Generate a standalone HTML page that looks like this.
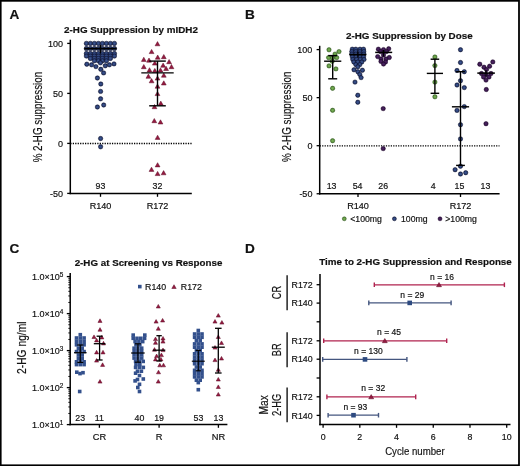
<!DOCTYPE html>
<html><head><meta charset="utf-8"><style>
html,body{margin:0;padding:0;background:#fff;}
#f{position:relative;width:520px;height:466px;overflow:hidden;background:#fff;}
svg{position:absolute;left:0;top:0;will-change:transform;}
text{font-family:"Liberation Sans",sans-serif;fill:#111;stroke:#111;stroke-width:0.18px;}
</style></head><body><div id="f">
<svg width="520" height="466" viewBox="0 0 520 466">
<defs>
<radialGradient id="gb"><stop offset="0" stop-color="#3d5792"/><stop offset="0.6" stop-color="#2c4178"/><stop offset="1" stop-color="#10173a"/></radialGradient>
<radialGradient id="gg"><stop offset="0" stop-color="#7db35a"/><stop offset="0.6" stop-color="#639a44"/><stop offset="1" stop-color="#375c22"/></radialGradient>
<radialGradient id="gp"><stop offset="0" stop-color="#4e2464"/><stop offset="0.6" stop-color="#3d1a52"/><stop offset="1" stop-color="#1c0628"/></radialGradient>
</defs>
<rect x="0" y="0" width="520" height="466" fill="#fff"/>
<text x="9.5" y="18.7" font-size="13.6" text-anchor="start" font-weight="bold" >A</text>
<text x="245.0" y="18.5" font-size="13.6" text-anchor="start" font-weight="bold" >B</text>
<text x="9.4" y="253.0" font-size="13.6" text-anchor="start" font-weight="bold" >C</text>
<text x="245.0" y="252.7" font-size="13.6" text-anchor="start" font-weight="bold" >D</text>
<text x="131" y="33" font-size="9.84" text-anchor="middle" font-weight="bold" >2-HG Suppression by mIDH2</text>
<line x1="70.3" y1="39.7" x2="70.3" y2="194.2" stroke="#000" stroke-width="1.5" />
<line x1="69.55" y1="193.5" x2="191.8" y2="193.5" stroke="#000" stroke-width="1.5" />
<line x1="67.2" y1="43.400000000000006" x2="70.3" y2="43.400000000000006" stroke="#000" stroke-width="1.3" />
<text x="63.1" y="46.62" font-size="9.0" text-anchor="end" >100</text>
<line x1="67.2" y1="93.4" x2="70.3" y2="93.4" stroke="#000" stroke-width="1.3" />
<text x="63.1" y="96.62" font-size="9.0" text-anchor="end" >50</text>
<line x1="67.2" y1="143.4" x2="70.3" y2="143.4" stroke="#000" stroke-width="1.3" />
<text x="63.1" y="146.62" font-size="9.0" text-anchor="end" >0</text>
<line x1="67.2" y1="193.4" x2="70.3" y2="193.4" stroke="#000" stroke-width="1.3" />
<text x="63.1" y="196.62" font-size="9.0" text-anchor="end" >-50</text>
<line x1="100.5" y1="193.5" x2="100.5" y2="196.8" stroke="#000" stroke-width="1.3" />
<text x="100.5" y="208.76" font-size="9.1" text-anchor="middle" >R140</text>
<text x="100.5" y="189.45" font-size="8.8" text-anchor="middle" >93</text>
<line x1="157.5" y1="193.5" x2="157.5" y2="196.8" stroke="#000" stroke-width="1.3" />
<text x="157.5" y="208.76" font-size="9.1" text-anchor="middle" >R172</text>
<text x="157.5" y="189.45" font-size="8.8" text-anchor="middle" >32</text>
<text transform="translate(42.0,117.1) rotate(-90)" font-size="12.0" text-anchor="middle" textLength="90.5" lengthAdjust="spacingAndGlyphs">% 2-HG suppression</text>
<line x1="70.3" y1="143.5" x2="192" y2="143.5" stroke="#000" stroke-width="1.3" stroke-dasharray="1.25 1.2"/>
<line x1="100.5" y1="45.0" x2="100.5" y2="53.6" stroke="#000" stroke-width="1.4" />
<circle cx="86.40" cy="43.40" r="2.25" fill="url(#gb)" stroke="#121a3c" stroke-width="0.5"/>
<circle cx="90.40" cy="43.40" r="2.25" fill="url(#gb)" stroke="#121a3c" stroke-width="0.5"/>
<circle cx="94.40" cy="43.40" r="2.25" fill="url(#gb)" stroke="#121a3c" stroke-width="0.5"/>
<circle cx="98.40" cy="43.40" r="2.25" fill="url(#gb)" stroke="#121a3c" stroke-width="0.5"/>
<circle cx="102.40" cy="43.40" r="2.25" fill="url(#gb)" stroke="#121a3c" stroke-width="0.5"/>
<circle cx="106.40" cy="43.40" r="2.25" fill="url(#gb)" stroke="#121a3c" stroke-width="0.5"/>
<circle cx="110.40" cy="43.40" r="2.25" fill="url(#gb)" stroke="#121a3c" stroke-width="0.5"/>
<circle cx="114.40" cy="43.40" r="2.25" fill="url(#gb)" stroke="#121a3c" stroke-width="0.5"/>
<circle cx="86.40" cy="48.60" r="2.25" fill="url(#gb)" stroke="#121a3c" stroke-width="0.5"/>
<circle cx="90.40" cy="48.60" r="2.25" fill="url(#gb)" stroke="#121a3c" stroke-width="0.5"/>
<circle cx="94.40" cy="48.60" r="2.25" fill="url(#gb)" stroke="#121a3c" stroke-width="0.5"/>
<circle cx="98.40" cy="48.60" r="2.25" fill="url(#gb)" stroke="#121a3c" stroke-width="0.5"/>
<circle cx="102.40" cy="48.60" r="2.25" fill="url(#gb)" stroke="#121a3c" stroke-width="0.5"/>
<circle cx="106.40" cy="48.60" r="2.25" fill="url(#gb)" stroke="#121a3c" stroke-width="0.5"/>
<circle cx="110.40" cy="48.60" r="2.25" fill="url(#gb)" stroke="#121a3c" stroke-width="0.5"/>
<circle cx="114.40" cy="48.60" r="2.25" fill="url(#gb)" stroke="#121a3c" stroke-width="0.5"/>
<circle cx="86.40" cy="53.60" r="2.25" fill="url(#gb)" stroke="#121a3c" stroke-width="0.5"/>
<circle cx="90.40" cy="53.60" r="2.25" fill="url(#gb)" stroke="#121a3c" stroke-width="0.5"/>
<circle cx="94.40" cy="53.60" r="2.25" fill="url(#gb)" stroke="#121a3c" stroke-width="0.5"/>
<circle cx="98.40" cy="53.60" r="2.25" fill="url(#gb)" stroke="#121a3c" stroke-width="0.5"/>
<circle cx="102.40" cy="53.60" r="2.25" fill="url(#gb)" stroke="#121a3c" stroke-width="0.5"/>
<circle cx="106.40" cy="53.60" r="2.25" fill="url(#gb)" stroke="#121a3c" stroke-width="0.5"/>
<circle cx="110.40" cy="53.60" r="2.25" fill="url(#gb)" stroke="#121a3c" stroke-width="0.5"/>
<circle cx="114.40" cy="53.60" r="2.25" fill="url(#gb)" stroke="#121a3c" stroke-width="0.5"/>
<circle cx="86.40" cy="56.00" r="2.25" fill="url(#gb)" stroke="#121a3c" stroke-width="0.5"/>
<circle cx="90.40" cy="56.00" r="2.25" fill="url(#gb)" stroke="#121a3c" stroke-width="0.5"/>
<circle cx="94.40" cy="56.00" r="2.25" fill="url(#gb)" stroke="#121a3c" stroke-width="0.5"/>
<circle cx="98.40" cy="56.00" r="2.25" fill="url(#gb)" stroke="#121a3c" stroke-width="0.5"/>
<circle cx="102.40" cy="56.00" r="2.25" fill="url(#gb)" stroke="#121a3c" stroke-width="0.5"/>
<circle cx="106.40" cy="56.00" r="2.25" fill="url(#gb)" stroke="#121a3c" stroke-width="0.5"/>
<circle cx="110.40" cy="56.00" r="2.25" fill="url(#gb)" stroke="#121a3c" stroke-width="0.5"/>
<circle cx="114.40" cy="56.00" r="2.25" fill="url(#gb)" stroke="#121a3c" stroke-width="0.5"/>
<circle cx="90.40" cy="58.40" r="2.25" fill="url(#gb)" stroke="#121a3c" stroke-width="0.5"/>
<circle cx="94.40" cy="58.40" r="2.25" fill="url(#gb)" stroke="#121a3c" stroke-width="0.5"/>
<circle cx="98.40" cy="58.40" r="2.25" fill="url(#gb)" stroke="#121a3c" stroke-width="0.5"/>
<circle cx="102.40" cy="58.40" r="2.25" fill="url(#gb)" stroke="#121a3c" stroke-width="0.5"/>
<circle cx="106.40" cy="58.40" r="2.25" fill="url(#gb)" stroke="#121a3c" stroke-width="0.5"/>
<circle cx="110.40" cy="58.40" r="2.25" fill="url(#gb)" stroke="#121a3c" stroke-width="0.5"/>
<circle cx="94.40" cy="60.80" r="2.25" fill="url(#gb)" stroke="#121a3c" stroke-width="0.5"/>
<circle cx="98.40" cy="60.80" r="2.25" fill="url(#gb)" stroke="#121a3c" stroke-width="0.5"/>
<circle cx="102.40" cy="60.80" r="2.25" fill="url(#gb)" stroke="#121a3c" stroke-width="0.5"/>
<circle cx="106.40" cy="60.80" r="2.25" fill="url(#gb)" stroke="#121a3c" stroke-width="0.5"/>
<circle cx="100.40" cy="62.80" r="2.25" fill="url(#gb)" stroke="#121a3c" stroke-width="0.5"/>
<line x1="84.3" y1="48.6" x2="116.6" y2="48.6" stroke="#000" stroke-width="1.7" />
<line x1="100.5" y1="45.6" x2="100.5" y2="53.4" stroke="#000" stroke-width="1.2" />
<circle cx="86.80" cy="64.20" r="2.2" fill="url(#gb)" stroke="#121a3c" stroke-width="0.5"/>
<circle cx="91.60" cy="64.80" r="2.2" fill="url(#gb)" stroke="#121a3c" stroke-width="0.5"/>
<circle cx="95.90" cy="66.60" r="2.2" fill="url(#gb)" stroke="#121a3c" stroke-width="0.5"/>
<circle cx="100.80" cy="69.30" r="2.2" fill="url(#gb)" stroke="#121a3c" stroke-width="0.5"/>
<circle cx="103.60" cy="72.90" r="2.2" fill="url(#gb)" stroke="#121a3c" stroke-width="0.5"/>
<circle cx="105.30" cy="65.80" r="2.2" fill="url(#gb)" stroke="#121a3c" stroke-width="0.5"/>
<circle cx="109.40" cy="64.80" r="2.2" fill="url(#gb)" stroke="#121a3c" stroke-width="0.5"/>
<circle cx="114.00" cy="63.90" r="2.2" fill="url(#gb)" stroke="#121a3c" stroke-width="0.5"/>
<circle cx="97.40" cy="78.00" r="2.2" fill="url(#gb)" stroke="#121a3c" stroke-width="0.5"/>
<circle cx="100.80" cy="84.00" r="2.2" fill="url(#gb)" stroke="#121a3c" stroke-width="0.5"/>
<circle cx="100.60" cy="91.40" r="2.2" fill="url(#gb)" stroke="#121a3c" stroke-width="0.5"/>
<circle cx="100.60" cy="98.80" r="2.2" fill="url(#gb)" stroke="#121a3c" stroke-width="0.5"/>
<circle cx="97.40" cy="107.00" r="2.2" fill="url(#gb)" stroke="#121a3c" stroke-width="0.5"/>
<circle cx="103.70" cy="105.00" r="2.2" fill="url(#gb)" stroke="#121a3c" stroke-width="0.5"/>
<circle cx="100.60" cy="138.50" r="2.2" fill="url(#gb)" stroke="#121a3c" stroke-width="0.5"/>
<circle cx="100.60" cy="146.80" r="2.2" fill="url(#gb)" stroke="#121a3c" stroke-width="0.5"/>
<path d="M157.50 41.59L159.90 45.79L155.10 45.79Z" fill="#951a40" stroke="#5c0c26" stroke-width="0.5" stroke-linejoin="round"/>
<path d="M151.60 49.39L154.00 53.59L149.20 53.59Z" fill="#951a40" stroke="#5c0c26" stroke-width="0.5" stroke-linejoin="round"/>
<path d="M143.80 57.19L146.20 61.39L141.40 61.39Z" fill="#951a40" stroke="#5c0c26" stroke-width="0.5" stroke-linejoin="round"/>
<path d="M149.00 57.99L151.40 62.19L146.60 62.19Z" fill="#951a40" stroke="#5c0c26" stroke-width="0.5" stroke-linejoin="round"/>
<path d="M157.70 54.99L160.10 59.19L155.30 59.19Z" fill="#951a40" stroke="#5c0c26" stroke-width="0.5" stroke-linejoin="round"/>
<path d="M163.80 54.49L166.20 58.69L161.40 58.69Z" fill="#951a40" stroke="#5c0c26" stroke-width="0.5" stroke-linejoin="round"/>
<path d="M169.10 59.49L171.50 63.69L166.70 63.69Z" fill="#951a40" stroke="#5c0c26" stroke-width="0.5" stroke-linejoin="round"/>
<path d="M154.80 60.89L157.20 65.09L152.40 65.09Z" fill="#951a40" stroke="#5c0c26" stroke-width="0.5" stroke-linejoin="round"/>
<path d="M143.80 64.49L146.20 68.69L141.40 68.69Z" fill="#951a40" stroke="#5c0c26" stroke-width="0.5" stroke-linejoin="round"/>
<path d="M163.10 63.09L165.50 67.29L160.70 67.29Z" fill="#951a40" stroke="#5c0c26" stroke-width="0.5" stroke-linejoin="round"/>
<path d="M171.50 64.49L173.90 68.69L169.10 68.69Z" fill="#951a40" stroke="#5c0c26" stroke-width="0.5" stroke-linejoin="round"/>
<path d="M166.10 66.29L168.50 70.49L163.70 70.49Z" fill="#951a40" stroke="#5c0c26" stroke-width="0.5" stroke-linejoin="round"/>
<path d="M149.50 67.69L151.90 71.89L147.10 71.89Z" fill="#951a40" stroke="#5c0c26" stroke-width="0.5" stroke-linejoin="round"/>
<path d="M154.80 68.39L157.20 72.59L152.40 72.59Z" fill="#951a40" stroke="#5c0c26" stroke-width="0.5" stroke-linejoin="round"/>
<path d="M160.50 67.89L162.90 72.09L158.10 72.09Z" fill="#951a40" stroke="#5c0c26" stroke-width="0.5" stroke-linejoin="round"/>
<path d="M148.40 74.09L150.80 78.29L146.00 78.29Z" fill="#951a40" stroke="#5c0c26" stroke-width="0.5" stroke-linejoin="round"/>
<path d="M163.80 72.99L166.20 77.19L161.40 77.19Z" fill="#951a40" stroke="#5c0c26" stroke-width="0.5" stroke-linejoin="round"/>
<path d="M157.50 75.89L159.90 80.09L155.10 80.09Z" fill="#951a40" stroke="#5c0c26" stroke-width="0.5" stroke-linejoin="round"/>
<path d="M151.60 78.59L154.00 82.79L149.20 82.79Z" fill="#951a40" stroke="#5c0c26" stroke-width="0.5" stroke-linejoin="round"/>
<path d="M163.80 80.79L166.20 84.99L161.40 84.99Z" fill="#951a40" stroke="#5c0c26" stroke-width="0.5" stroke-linejoin="round"/>
<path d="M157.50 83.99L159.90 88.19L155.10 88.19Z" fill="#951a40" stroke="#5c0c26" stroke-width="0.5" stroke-linejoin="round"/>
<path d="M157.50 91.39L159.90 95.59L155.10 95.59Z" fill="#951a40" stroke="#5c0c26" stroke-width="0.5" stroke-linejoin="round"/>
<path d="M160.80 101.09L163.20 105.29L158.40 105.29Z" fill="#951a40" stroke="#5c0c26" stroke-width="0.5" stroke-linejoin="round"/>
<path d="M154.50 104.49L156.90 108.69L152.10 108.69Z" fill="#951a40" stroke="#5c0c26" stroke-width="0.5" stroke-linejoin="round"/>
<path d="M154.30 118.49L156.70 122.69L151.90 122.69Z" fill="#951a40" stroke="#5c0c26" stroke-width="0.5" stroke-linejoin="round"/>
<path d="M160.50 119.79L162.90 123.99L158.10 123.99Z" fill="#951a40" stroke="#5c0c26" stroke-width="0.5" stroke-linejoin="round"/>
<path d="M157.60 135.19L160.00 139.39L155.20 139.39Z" fill="#951a40" stroke="#5c0c26" stroke-width="0.5" stroke-linejoin="round"/>
<path d="M157.60 162.69L160.00 166.89L155.20 166.89Z" fill="#951a40" stroke="#5c0c26" stroke-width="0.5" stroke-linejoin="round"/>
<path d="M151.50 167.19L153.90 171.39L149.10 171.39Z" fill="#951a40" stroke="#5c0c26" stroke-width="0.5" stroke-linejoin="round"/>
<path d="M157.60 171.39L160.00 175.59L155.20 175.59Z" fill="#951a40" stroke="#5c0c26" stroke-width="0.5" stroke-linejoin="round"/>
<path d="M163.60 170.59L166.00 174.79L161.20 174.79Z" fill="#951a40" stroke="#5c0c26" stroke-width="0.5" stroke-linejoin="round"/>
<line x1="157.5" y1="61.1" x2="157.5" y2="105.8" stroke="#000" stroke-width="1.4" />
<line x1="149.2" y1="61.1" x2="165.8" y2="61.1" stroke="#000" stroke-width="1.4" />
<line x1="149.2" y1="105.8" x2="165.8" y2="105.8" stroke="#000" stroke-width="1.4" />
<line x1="141.3" y1="72.9" x2="173.7" y2="72.9" stroke="#000" stroke-width="1.4" />
<text x="409.3" y="39" font-size="9.84" text-anchor="middle" font-weight="bold" >2-HG Suppression by Dose</text>
<line x1="319.7" y1="45.8" x2="319.7" y2="194.5" stroke="#000" stroke-width="1.5" />
<line x1="318.95" y1="193.75" x2="499.6" y2="193.75" stroke="#000" stroke-width="1.5" />
<line x1="316.6" y1="49.599999999999994" x2="319.7" y2="49.599999999999994" stroke="#000" stroke-width="1.3" />
<text x="312.4" y="52.82" font-size="9.0" text-anchor="end" >100</text>
<line x1="316.6" y1="97.64999999999999" x2="319.7" y2="97.64999999999999" stroke="#000" stroke-width="1.3" />
<text x="312.4" y="100.87" font-size="9.0" text-anchor="end" >50</text>
<line x1="316.6" y1="145.7" x2="319.7" y2="145.7" stroke="#000" stroke-width="1.3" />
<text x="312.4" y="148.92" font-size="9.0" text-anchor="end" >0</text>
<line x1="316.6" y1="193.75" x2="319.7" y2="193.75" stroke="#000" stroke-width="1.3" />
<text x="312.4" y="196.97" font-size="9.0" text-anchor="end" >-50</text>
<text transform="translate(291.3,116.8) rotate(-90)" font-size="12.0" text-anchor="middle" textLength="90.5" lengthAdjust="spacingAndGlyphs">% 2-HG suppression</text>
<line x1="319.7" y1="145.8" x2="499.5" y2="145.8" stroke="#000" stroke-width="1.3" stroke-dasharray="1.25 1.2"/>
<line x1="358" y1="193.75" x2="358" y2="197" stroke="#000" stroke-width="1.3" />
<text x="358" y="208.76" font-size="9.1" text-anchor="middle" >R140</text>
<line x1="460.5" y1="193.75" x2="460.5" y2="197" stroke="#000" stroke-width="1.3" />
<text x="460.5" y="208.76" font-size="9.1" text-anchor="middle" >R172</text>
<text x="331.6" y="189.45" font-size="8.8" text-anchor="middle" >13</text>
<text x="357.6" y="189.45" font-size="8.8" text-anchor="middle" >54</text>
<text x="383.2" y="189.45" font-size="8.8" text-anchor="middle" >26</text>
<text x="433.3" y="189.45" font-size="8.8" text-anchor="middle" >4</text>
<text x="459.4" y="189.45" font-size="8.8" text-anchor="middle" >15</text>
<text x="485.5" y="189.45" font-size="8.8" text-anchor="middle" >13</text>
<circle cx="344.30" cy="218.80" r="2.0" fill="url(#gg)" stroke="#3f6a2a" stroke-width="0.5"/>
<text x="350.3" y="221.71" font-size="8.7" text-anchor="start" >&lt;100mg</text>
<circle cx="394.40" cy="218.80" r="2.0" fill="url(#gb)" stroke="#121a3c" stroke-width="0.5"/>
<text x="401" y="221.71" font-size="8.7" text-anchor="start" >100mg</text>
<circle cx="440.00" cy="218.80" r="2.0" fill="url(#gp)" stroke="#280c38" stroke-width="0.5"/>
<text x="445.3" y="221.71" font-size="8.7" text-anchor="start" >&gt;100mg</text>
<circle cx="329.00" cy="49.80" r="2.2" fill="url(#gg)" stroke="#3f6a2a" stroke-width="0.5"/>
<circle cx="339.00" cy="51.60" r="2.2" fill="url(#gg)" stroke="#3f6a2a" stroke-width="0.5"/>
<circle cx="335.00" cy="54.10" r="2.2" fill="url(#gg)" stroke="#3f6a2a" stroke-width="0.5"/>
<circle cx="328.60" cy="57.60" r="2.2" fill="url(#gg)" stroke="#3f6a2a" stroke-width="0.5"/>
<circle cx="332.60" cy="57.80" r="2.2" fill="url(#gg)" stroke="#3f6a2a" stroke-width="0.5"/>
<circle cx="336.70" cy="57.60" r="2.2" fill="url(#gg)" stroke="#3f6a2a" stroke-width="0.5"/>
<circle cx="329.00" cy="65.90" r="2.2" fill="url(#gg)" stroke="#3f6a2a" stroke-width="0.5"/>
<circle cx="335.90" cy="68.90" r="2.2" fill="url(#gg)" stroke="#3f6a2a" stroke-width="0.5"/>
<circle cx="332.60" cy="88.30" r="2.2" fill="url(#gg)" stroke="#3f6a2a" stroke-width="0.5"/>
<circle cx="332.60" cy="110.30" r="2.2" fill="url(#gg)" stroke="#3f6a2a" stroke-width="0.5"/>
<circle cx="332.60" cy="140.70" r="2.2" fill="url(#gg)" stroke="#3f6a2a" stroke-width="0.5"/>
<circle cx="332.20" cy="61.20" r="2.2" fill="url(#gg)" stroke="#3f6a2a" stroke-width="0.5"/>
<line x1="332.7" y1="55.6" x2="332.7" y2="78.8" stroke="#000" stroke-width="1.4" />
<line x1="328.2" y1="55.6" x2="337.2" y2="55.6" stroke="#000" stroke-width="1.4" />
<line x1="328.2" y1="78.8" x2="337.2" y2="78.8" stroke="#000" stroke-width="1.4" />
<line x1="324.09999999999997" y1="61.2" x2="341.3" y2="61.2" stroke="#000" stroke-width="1.4" />
<line x1="357.9" y1="50" x2="357.9" y2="58" stroke="#000" stroke-width="1.3" />
<circle cx="352.30" cy="49.20" r="2.2" fill="url(#gb)" stroke="#121a3c" stroke-width="0.5"/>
<circle cx="355.80" cy="49.20" r="2.2" fill="url(#gb)" stroke="#121a3c" stroke-width="0.5"/>
<circle cx="360.00" cy="49.20" r="2.2" fill="url(#gb)" stroke="#121a3c" stroke-width="0.5"/>
<circle cx="363.50" cy="49.20" r="2.2" fill="url(#gb)" stroke="#121a3c" stroke-width="0.5"/>
<circle cx="351.80" cy="51.60" r="2.2" fill="url(#gb)" stroke="#121a3c" stroke-width="0.5"/>
<circle cx="355.80" cy="51.60" r="2.2" fill="url(#gb)" stroke="#121a3c" stroke-width="0.5"/>
<circle cx="359.80" cy="51.60" r="2.2" fill="url(#gb)" stroke="#121a3c" stroke-width="0.5"/>
<circle cx="363.80" cy="51.60" r="2.2" fill="url(#gb)" stroke="#121a3c" stroke-width="0.5"/>
<circle cx="351.80" cy="54.00" r="2.2" fill="url(#gb)" stroke="#121a3c" stroke-width="0.5"/>
<circle cx="355.80" cy="54.00" r="2.2" fill="url(#gb)" stroke="#121a3c" stroke-width="0.5"/>
<circle cx="359.80" cy="54.00" r="2.2" fill="url(#gb)" stroke="#121a3c" stroke-width="0.5"/>
<circle cx="363.80" cy="54.00" r="2.2" fill="url(#gb)" stroke="#121a3c" stroke-width="0.5"/>
<circle cx="352.30" cy="56.80" r="2.2" fill="url(#gb)" stroke="#121a3c" stroke-width="0.5"/>
<circle cx="356.20" cy="56.80" r="2.2" fill="url(#gb)" stroke="#121a3c" stroke-width="0.5"/>
<circle cx="360.00" cy="56.80" r="2.2" fill="url(#gb)" stroke="#121a3c" stroke-width="0.5"/>
<circle cx="363.60" cy="56.80" r="2.2" fill="url(#gb)" stroke="#121a3c" stroke-width="0.5"/>
<circle cx="352.80" cy="59.40" r="2.2" fill="url(#gb)" stroke="#121a3c" stroke-width="0.5"/>
<circle cx="356.60" cy="59.40" r="2.2" fill="url(#gb)" stroke="#121a3c" stroke-width="0.5"/>
<circle cx="360.40" cy="59.40" r="2.2" fill="url(#gb)" stroke="#121a3c" stroke-width="0.5"/>
<circle cx="364.00" cy="59.40" r="2.2" fill="url(#gb)" stroke="#121a3c" stroke-width="0.5"/>
<circle cx="353.80" cy="62.00" r="2.2" fill="url(#gb)" stroke="#121a3c" stroke-width="0.5"/>
<circle cx="357.80" cy="62.00" r="2.2" fill="url(#gb)" stroke="#121a3c" stroke-width="0.5"/>
<circle cx="361.80" cy="62.00" r="2.2" fill="url(#gb)" stroke="#121a3c" stroke-width="0.5"/>
<circle cx="355.80" cy="64.60" r="2.2" fill="url(#gb)" stroke="#121a3c" stroke-width="0.5"/>
<circle cx="359.80" cy="64.60" r="2.2" fill="url(#gb)" stroke="#121a3c" stroke-width="0.5"/>
<circle cx="357.80" cy="66.80" r="2.2" fill="url(#gb)" stroke="#121a3c" stroke-width="0.5"/>
<circle cx="354.00" cy="69.80" r="2.2" fill="url(#gb)" stroke="#121a3c" stroke-width="0.5"/>
<circle cx="362.40" cy="70.20" r="2.2" fill="url(#gb)" stroke="#121a3c" stroke-width="0.5"/>
<circle cx="357.90" cy="71.80" r="2.2" fill="url(#gb)" stroke="#121a3c" stroke-width="0.5"/>
<circle cx="359.80" cy="74.40" r="2.2" fill="url(#gb)" stroke="#121a3c" stroke-width="0.5"/>
<circle cx="361.10" cy="77.60" r="2.2" fill="url(#gb)" stroke="#121a3c" stroke-width="0.5"/>
<circle cx="355.00" cy="82.10" r="2.2" fill="url(#gb)" stroke="#121a3c" stroke-width="0.5"/>
<circle cx="357.80" cy="95.20" r="2.2" fill="url(#gb)" stroke="#121a3c" stroke-width="0.5"/>
<circle cx="357.80" cy="102.20" r="2.2" fill="url(#gb)" stroke="#121a3c" stroke-width="0.5"/>
<line x1="349.2" y1="54.6" x2="366.4" y2="54.6" stroke="#000" stroke-width="1.6" />
<line x1="357.9" y1="51.5" x2="357.9" y2="57.5" stroke="#000" stroke-width="1.1" />
<circle cx="378.40" cy="49.20" r="2.2" fill="url(#gp)" stroke="#280c38" stroke-width="0.5"/>
<circle cx="383.50" cy="49.60" r="2.2" fill="url(#gp)" stroke="#280c38" stroke-width="0.5"/>
<circle cx="388.70" cy="48.80" r="2.2" fill="url(#gp)" stroke="#280c38" stroke-width="0.5"/>
<circle cx="380.50" cy="51.50" r="2.2" fill="url(#gp)" stroke="#280c38" stroke-width="0.5"/>
<circle cx="386.50" cy="51.50" r="2.2" fill="url(#gp)" stroke="#280c38" stroke-width="0.5"/>
<circle cx="377.70" cy="56.60" r="2.2" fill="url(#gp)" stroke="#280c38" stroke-width="0.5"/>
<circle cx="383.50" cy="55.00" r="2.2" fill="url(#gp)" stroke="#280c38" stroke-width="0.5"/>
<circle cx="389.30" cy="57.50" r="2.2" fill="url(#gp)" stroke="#280c38" stroke-width="0.5"/>
<circle cx="381.00" cy="59.00" r="2.2" fill="url(#gp)" stroke="#280c38" stroke-width="0.5"/>
<circle cx="386.00" cy="59.00" r="2.2" fill="url(#gp)" stroke="#280c38" stroke-width="0.5"/>
<circle cx="381.00" cy="61.40" r="2.2" fill="url(#gp)" stroke="#280c38" stroke-width="0.5"/>
<circle cx="385.50" cy="62.00" r="2.2" fill="url(#gp)" stroke="#280c38" stroke-width="0.5"/>
<circle cx="383.50" cy="64.00" r="2.2" fill="url(#gp)" stroke="#280c38" stroke-width="0.5"/>
<circle cx="383.20" cy="108.60" r="2.2" fill="url(#gp)" stroke="#280c38" stroke-width="0.5"/>
<circle cx="383.20" cy="148.60" r="2.2" fill="url(#gp)" stroke="#280c38" stroke-width="0.5"/>
<line x1="375.2" y1="52.4" x2="392.2" y2="52.4" stroke="#000" stroke-width="1.5" />
<line x1="383.5" y1="50.0" x2="383.5" y2="56.5" stroke="#000" stroke-width="1.2" />
<circle cx="434.90" cy="57.00" r="2.2" fill="url(#gg)" stroke="#3f6a2a" stroke-width="0.5"/>
<circle cx="434.90" cy="65.60" r="2.2" fill="url(#gg)" stroke="#3f6a2a" stroke-width="0.5"/>
<circle cx="434.90" cy="82.10" r="2.2" fill="url(#gg)" stroke="#3f6a2a" stroke-width="0.5"/>
<circle cx="434.90" cy="96.80" r="2.2" fill="url(#gg)" stroke="#3f6a2a" stroke-width="0.5"/>
<line x1="434.9" y1="59.2" x2="434.9" y2="93.3" stroke="#000" stroke-width="1.4" />
<line x1="430.59999999999997" y1="59.2" x2="439.2" y2="59.2" stroke="#000" stroke-width="1.4" />
<line x1="430.59999999999997" y1="93.3" x2="439.2" y2="93.3" stroke="#000" stroke-width="1.4" />
<line x1="426.79999999999995" y1="73.4" x2="443.0" y2="73.4" stroke="#000" stroke-width="1.4" />
<circle cx="460.50" cy="49.70" r="2.2" fill="url(#gb)" stroke="#121a3c" stroke-width="0.5"/>
<circle cx="460.50" cy="62.50" r="2.2" fill="url(#gb)" stroke="#121a3c" stroke-width="0.5"/>
<circle cx="457.00" cy="70.50" r="2.2" fill="url(#gb)" stroke="#121a3c" stroke-width="0.5"/>
<circle cx="464.30" cy="71.70" r="2.2" fill="url(#gb)" stroke="#121a3c" stroke-width="0.5"/>
<circle cx="460.50" cy="80.70" r="2.2" fill="url(#gb)" stroke="#121a3c" stroke-width="0.5"/>
<circle cx="457.00" cy="85.00" r="2.2" fill="url(#gb)" stroke="#121a3c" stroke-width="0.5"/>
<circle cx="464.30" cy="87.60" r="2.2" fill="url(#gb)" stroke="#121a3c" stroke-width="0.5"/>
<circle cx="464.30" cy="106.60" r="2.2" fill="url(#gb)" stroke="#121a3c" stroke-width="0.5"/>
<circle cx="457.00" cy="110.40" r="2.2" fill="url(#gb)" stroke="#121a3c" stroke-width="0.5"/>
<circle cx="460.50" cy="124.70" r="2.2" fill="url(#gb)" stroke="#121a3c" stroke-width="0.5"/>
<circle cx="460.50" cy="138.90" r="2.2" fill="url(#gb)" stroke="#121a3c" stroke-width="0.5"/>
<circle cx="460.50" cy="166.20" r="2.2" fill="url(#gb)" stroke="#121a3c" stroke-width="0.5"/>
<circle cx="455.10" cy="169.70" r="2.2" fill="url(#gb)" stroke="#121a3c" stroke-width="0.5"/>
<circle cx="460.50" cy="174.00" r="2.2" fill="url(#gb)" stroke="#121a3c" stroke-width="0.5"/>
<circle cx="465.70" cy="172.70" r="2.2" fill="url(#gb)" stroke="#121a3c" stroke-width="0.5"/>
<line x1="460.5" y1="71.7" x2="460.5" y2="165.4" stroke="#000" stroke-width="1.4" />
<line x1="456.1" y1="71.7" x2="464.9" y2="71.7" stroke="#000" stroke-width="1.4" />
<line x1="456.1" y1="165.4" x2="464.9" y2="165.4" stroke="#000" stroke-width="1.4" />
<line x1="451.9" y1="106.8" x2="469.1" y2="106.8" stroke="#000" stroke-width="1.4" />
<line x1="486" y1="68.5" x2="486" y2="77.5" stroke="#000" stroke-width="1.3" />
<circle cx="492.80" cy="61.90" r="2.2" fill="url(#gp)" stroke="#280c38" stroke-width="0.5"/>
<circle cx="479.80" cy="64.20" r="2.2" fill="url(#gp)" stroke="#280c38" stroke-width="0.5"/>
<circle cx="484.00" cy="67.20" r="2.2" fill="url(#gp)" stroke="#280c38" stroke-width="0.5"/>
<circle cx="489.60" cy="66.20" r="2.2" fill="url(#gp)" stroke="#280c38" stroke-width="0.5"/>
<circle cx="486.50" cy="69.50" r="2.2" fill="url(#gp)" stroke="#280c38" stroke-width="0.5"/>
<circle cx="481.50" cy="73.50" r="2.2" fill="url(#gp)" stroke="#280c38" stroke-width="0.5"/>
<circle cx="486.00" cy="74.50" r="2.2" fill="url(#gp)" stroke="#280c38" stroke-width="0.5"/>
<circle cx="491.00" cy="73.50" r="2.2" fill="url(#gp)" stroke="#280c38" stroke-width="0.5"/>
<circle cx="483.50" cy="77.00" r="2.2" fill="url(#gp)" stroke="#280c38" stroke-width="0.5"/>
<circle cx="489.00" cy="77.00" r="2.2" fill="url(#gp)" stroke="#280c38" stroke-width="0.5"/>
<circle cx="486.00" cy="80.10" r="2.2" fill="url(#gp)" stroke="#280c38" stroke-width="0.5"/>
<circle cx="486.30" cy="89.50" r="2.2" fill="url(#gp)" stroke="#280c38" stroke-width="0.5"/>
<circle cx="486.00" cy="123.70" r="2.2" fill="url(#gp)" stroke="#280c38" stroke-width="0.5"/>
<line x1="477.3" y1="73.1" x2="494.9" y2="73.1" stroke="#000" stroke-width="1.5" />
<line x1="486" y1="70" x2="486" y2="76" stroke="#000" stroke-width="1.2" />
<text x="148.5" y="266" font-size="9.77" text-anchor="middle" font-weight="bold" >2-HG at Screening vs Response</text>
<line x1="70.2" y1="273.0" x2="70.2" y2="425.3" stroke="#000" stroke-width="1.5" />
<line x1="69.45" y1="424.6" x2="227.4" y2="424.6" stroke="#000" stroke-width="1.5" />
<line x1="66.8" y1="424.6" x2="70.2" y2="424.6" stroke="#000" stroke-width="1.3" />
<text x="63.3" y="427.80" font-size="9.0" text-anchor="end">1.0×10<tspan font-size="6.4" dy="-3.0">1</tspan></text>
<line x1="68.3" y1="413.46189016043274" x2="70.2" y2="413.46189016043274" stroke="#000" stroke-width="0.9" />
<line x1="68.3" y1="406.94651357537253" x2="70.2" y2="406.94651357537253" stroke="#000" stroke-width="0.9" />
<line x1="68.3" y1="402.3237803208654" x2="70.2" y2="402.3237803208654" stroke="#000" stroke-width="0.9" />
<line x1="68.3" y1="398.7381098395673" x2="70.2" y2="398.7381098395673" stroke="#000" stroke-width="0.9" />
<line x1="68.3" y1="395.8084037358052" x2="70.2" y2="395.8084037358052" stroke="#000" stroke-width="0.9" />
<line x1="68.3" y1="393.3313725194725" x2="70.2" y2="393.3313725194725" stroke="#000" stroke-width="0.9" />
<line x1="68.3" y1="391.18567048129813" x2="70.2" y2="391.18567048129813" stroke="#000" stroke-width="0.9" />
<line x1="68.3" y1="389.293027150745" x2="70.2" y2="389.293027150745" stroke="#000" stroke-width="0.9" />
<line x1="66.8" y1="387.6" x2="70.2" y2="387.6" stroke="#000" stroke-width="1.3" />
<text x="63.3" y="390.80" font-size="9.0" text-anchor="end">1.0×10<tspan font-size="6.4" dy="-3.0">2</tspan></text>
<line x1="68.3" y1="376.46189016043274" x2="70.2" y2="376.46189016043274" stroke="#000" stroke-width="0.9" />
<line x1="68.3" y1="369.9465135753725" x2="70.2" y2="369.9465135753725" stroke="#000" stroke-width="0.9" />
<line x1="68.3" y1="365.3237803208654" x2="70.2" y2="365.3237803208654" stroke="#000" stroke-width="0.9" />
<line x1="68.3" y1="361.7381098395673" x2="70.2" y2="361.7381098395673" stroke="#000" stroke-width="0.9" />
<line x1="68.3" y1="358.8084037358052" x2="70.2" y2="358.8084037358052" stroke="#000" stroke-width="0.9" />
<line x1="68.3" y1="356.33137251947255" x2="70.2" y2="356.33137251947255" stroke="#000" stroke-width="0.9" />
<line x1="68.3" y1="354.1856704812981" x2="70.2" y2="354.1856704812981" stroke="#000" stroke-width="0.9" />
<line x1="68.3" y1="352.293027150745" x2="70.2" y2="352.293027150745" stroke="#000" stroke-width="0.9" />
<line x1="66.8" y1="350.6" x2="70.2" y2="350.6" stroke="#000" stroke-width="1.3" />
<text x="63.3" y="353.80" font-size="9.0" text-anchor="end">1.0×10<tspan font-size="6.4" dy="-3.0">3</tspan></text>
<line x1="68.3" y1="339.46189016043274" x2="70.2" y2="339.46189016043274" stroke="#000" stroke-width="0.9" />
<line x1="68.3" y1="332.9465135753725" x2="70.2" y2="332.9465135753725" stroke="#000" stroke-width="0.9" />
<line x1="68.3" y1="328.3237803208654" x2="70.2" y2="328.3237803208654" stroke="#000" stroke-width="0.9" />
<line x1="68.3" y1="324.7381098395673" x2="70.2" y2="324.7381098395673" stroke="#000" stroke-width="0.9" />
<line x1="68.3" y1="321.8084037358052" x2="70.2" y2="321.8084037358052" stroke="#000" stroke-width="0.9" />
<line x1="68.3" y1="319.33137251947255" x2="70.2" y2="319.33137251947255" stroke="#000" stroke-width="0.9" />
<line x1="68.3" y1="317.1856704812981" x2="70.2" y2="317.1856704812981" stroke="#000" stroke-width="0.9" />
<line x1="68.3" y1="315.293027150745" x2="70.2" y2="315.293027150745" stroke="#000" stroke-width="0.9" />
<line x1="66.8" y1="313.6" x2="70.2" y2="313.6" stroke="#000" stroke-width="1.3" />
<text x="63.3" y="316.80" font-size="9.0" text-anchor="end">1.0×10<tspan font-size="6.4" dy="-3.0">4</tspan></text>
<line x1="68.3" y1="302.46189016043274" x2="70.2" y2="302.46189016043274" stroke="#000" stroke-width="0.9" />
<line x1="68.3" y1="295.9465135753725" x2="70.2" y2="295.9465135753725" stroke="#000" stroke-width="0.9" />
<line x1="68.3" y1="291.3237803208654" x2="70.2" y2="291.3237803208654" stroke="#000" stroke-width="0.9" />
<line x1="68.3" y1="287.7381098395673" x2="70.2" y2="287.7381098395673" stroke="#000" stroke-width="0.9" />
<line x1="68.3" y1="284.8084037358052" x2="70.2" y2="284.8084037358052" stroke="#000" stroke-width="0.9" />
<line x1="68.3" y1="282.33137251947255" x2="70.2" y2="282.33137251947255" stroke="#000" stroke-width="0.9" />
<line x1="68.3" y1="280.1856704812981" x2="70.2" y2="280.1856704812981" stroke="#000" stroke-width="0.9" />
<line x1="68.3" y1="278.293027150745" x2="70.2" y2="278.293027150745" stroke="#000" stroke-width="0.9" />
<line x1="66.8" y1="276.6" x2="70.2" y2="276.6" stroke="#000" stroke-width="1.3" />
<text x="63.3" y="279.80" font-size="9.0" text-anchor="end">1.0×10<tspan font-size="6.4" dy="-3.0">5</tspan></text>
<line x1="99.4" y1="424.6" x2="99.4" y2="427.8" stroke="#000" stroke-width="1.3" />
<text x="99.4" y="440.23" font-size="9.3" text-anchor="middle" >CR</text>
<line x1="159.1" y1="424.6" x2="159.1" y2="427.8" stroke="#000" stroke-width="1.3" />
<text x="159.1" y="440.23" font-size="9.3" text-anchor="middle" >R</text>
<line x1="218.4" y1="424.6" x2="218.4" y2="427.8" stroke="#000" stroke-width="1.3" />
<text x="218.4" y="440.23" font-size="9.3" text-anchor="middle" >NR</text>
<text x="80.2" y="420.75" font-size="8.8" text-anchor="middle" >23</text>
<text x="99.4" y="420.75" font-size="8.8" text-anchor="middle" >11</text>
<text x="139.4" y="420.75" font-size="8.8" text-anchor="middle" >40</text>
<text x="159.1" y="420.75" font-size="8.8" text-anchor="middle" >19</text>
<text x="198.4" y="420.75" font-size="8.8" text-anchor="middle" >53</text>
<text x="218.4" y="420.75" font-size="8.8" text-anchor="middle" >13</text>
<text transform="translate(25.6,347.7) rotate(-90)" font-size="12.0" text-anchor="middle" textLength="52.5" lengthAdjust="spacingAndGlyphs">2-HG ng/ml</text>
<rect x="138.00" y="284.80" width="3.6" height="3.6" fill="#33508c"/>
<text x="145.1" y="289.75" font-size="8.8" text-anchor="start" >R140</text>
<path d="M174.00 284.71L176.20 288.51L171.80 288.51Z" fill="#951a40" stroke="#5c0c26" stroke-width="0.5" stroke-linejoin="round"/>
<text x="180.8" y="289.75" font-size="8.8" text-anchor="start" >R172</text>
<rect x="78.50" y="332.90" width="3.6" height="3.6" fill="#33508c"/>
<rect x="74.70" y="336.20" width="3.6" height="3.6" fill="#33508c"/>
<rect x="78.50" y="336.20" width="3.6" height="3.6" fill="#33508c"/>
<rect x="82.30" y="336.20" width="3.6" height="3.6" fill="#33508c"/>
<rect x="74.70" y="339.60" width="3.6" height="3.6" fill="#33508c"/>
<rect x="78.50" y="339.60" width="3.6" height="3.6" fill="#33508c"/>
<rect x="82.30" y="339.60" width="3.6" height="3.6" fill="#33508c"/>
<rect x="74.70" y="343.00" width="3.6" height="3.6" fill="#33508c"/>
<rect x="78.50" y="343.00" width="3.6" height="3.6" fill="#33508c"/>
<rect x="82.30" y="343.00" width="3.6" height="3.6" fill="#33508c"/>
<rect x="76.60" y="346.40" width="3.6" height="3.6" fill="#33508c"/>
<rect x="80.40" y="346.40" width="3.6" height="3.6" fill="#33508c"/>
<rect x="74.70" y="349.80" width="3.6" height="3.6" fill="#33508c"/>
<rect x="78.50" y="349.80" width="3.6" height="3.6" fill="#33508c"/>
<rect x="82.30" y="349.80" width="3.6" height="3.6" fill="#33508c"/>
<rect x="76.60" y="353.20" width="3.6" height="3.6" fill="#33508c"/>
<rect x="80.40" y="353.20" width="3.6" height="3.6" fill="#33508c"/>
<rect x="76.60" y="356.60" width="3.6" height="3.6" fill="#33508c"/>
<rect x="80.40" y="356.60" width="3.6" height="3.6" fill="#33508c"/>
<rect x="74.70" y="360.00" width="3.6" height="3.6" fill="#33508c"/>
<rect x="78.50" y="360.00" width="3.6" height="3.6" fill="#33508c"/>
<rect x="82.30" y="360.00" width="3.6" height="3.6" fill="#33508c"/>
<rect x="74.70" y="362.80" width="3.6" height="3.6" fill="#33508c"/>
<rect x="78.50" y="362.80" width="3.6" height="3.6" fill="#33508c"/>
<rect x="82.30" y="362.80" width="3.6" height="3.6" fill="#33508c"/>
<rect x="75.00" y="370.40" width="3.6" height="3.6" fill="#33508c"/>
<rect x="78.20" y="371.80" width="3.6" height="3.6" fill="#33508c"/>
<rect x="81.20" y="370.90" width="3.6" height="3.6" fill="#33508c"/>
<rect x="77.90" y="389.70" width="3.6" height="3.6" fill="#33508c"/>
<line x1="80.3" y1="345.0" x2="80.3" y2="362.4" stroke="#000" stroke-width="1.2" />
<line x1="77.3" y1="345.0" x2="83.3" y2="345.0" stroke="#000" stroke-width="1.2" />
<line x1="77.3" y1="362.4" x2="83.3" y2="362.4" stroke="#000" stroke-width="1.2" />
<line x1="74.0" y1="352.7" x2="86.6" y2="352.7" stroke="#000" stroke-width="1.2" />
<rect x="131.40" y="333.30" width="3.6" height="3.6" fill="#33508c"/>
<rect x="143.00" y="333.30" width="3.6" height="3.6" fill="#33508c"/>
<rect x="131.40" y="336.50" width="3.6" height="3.6" fill="#33508c"/>
<rect x="135.20" y="336.50" width="3.6" height="3.6" fill="#33508c"/>
<rect x="139.00" y="336.50" width="3.6" height="3.6" fill="#33508c"/>
<rect x="142.80" y="336.50" width="3.6" height="3.6" fill="#33508c"/>
<rect x="133.30" y="339.80" width="3.6" height="3.6" fill="#33508c"/>
<rect x="137.10" y="339.80" width="3.6" height="3.6" fill="#33508c"/>
<rect x="140.90" y="339.80" width="3.6" height="3.6" fill="#33508c"/>
<rect x="134.20" y="343.10" width="3.6" height="3.6" fill="#33508c"/>
<rect x="138.00" y="343.10" width="3.6" height="3.6" fill="#33508c"/>
<rect x="132.30" y="346.40" width="3.6" height="3.6" fill="#33508c"/>
<rect x="136.10" y="346.40" width="3.6" height="3.6" fill="#33508c"/>
<rect x="139.90" y="346.40" width="3.6" height="3.6" fill="#33508c"/>
<rect x="132.30" y="349.70" width="3.6" height="3.6" fill="#33508c"/>
<rect x="136.10" y="349.70" width="3.6" height="3.6" fill="#33508c"/>
<rect x="139.90" y="349.70" width="3.6" height="3.6" fill="#33508c"/>
<rect x="132.30" y="353.00" width="3.6" height="3.6" fill="#33508c"/>
<rect x="136.10" y="353.00" width="3.6" height="3.6" fill="#33508c"/>
<rect x="139.90" y="353.00" width="3.6" height="3.6" fill="#33508c"/>
<rect x="132.30" y="356.30" width="3.6" height="3.6" fill="#33508c"/>
<rect x="136.10" y="356.30" width="3.6" height="3.6" fill="#33508c"/>
<rect x="139.90" y="356.30" width="3.6" height="3.6" fill="#33508c"/>
<rect x="133.80" y="359.60" width="3.6" height="3.6" fill="#33508c"/>
<rect x="137.60" y="359.60" width="3.6" height="3.6" fill="#33508c"/>
<rect x="141.40" y="359.60" width="3.6" height="3.6" fill="#33508c"/>
<rect x="134.20" y="362.70" width="3.6" height="3.6" fill="#33508c"/>
<rect x="138.00" y="362.70" width="3.6" height="3.6" fill="#33508c"/>
<rect x="133.80" y="365.60" width="3.6" height="3.6" fill="#33508c"/>
<rect x="137.70" y="365.60" width="3.6" height="3.6" fill="#33508c"/>
<rect x="141.50" y="365.60" width="3.6" height="3.6" fill="#33508c"/>
<rect x="135.70" y="369.40" width="3.6" height="3.6" fill="#33508c"/>
<rect x="139.60" y="369.40" width="3.6" height="3.6" fill="#33508c"/>
<rect x="133.80" y="371.40" width="3.6" height="3.6" fill="#33508c"/>
<rect x="137.70" y="373.70" width="3.6" height="3.6" fill="#33508c"/>
<rect x="141.50" y="377.20" width="3.6" height="3.6" fill="#33508c"/>
<rect x="135.70" y="377.70" width="3.6" height="3.6" fill="#33508c"/>
<rect x="133.30" y="379.10" width="3.6" height="3.6" fill="#33508c"/>
<rect x="137.70" y="382.50" width="3.6" height="3.6" fill="#33508c"/>
<rect x="136.00" y="385.70" width="3.6" height="3.6" fill="#33508c"/>
<rect x="137.70" y="389.70" width="3.6" height="3.6" fill="#33508c"/>
<line x1="137.9" y1="343.8" x2="137.9" y2="362.2" stroke="#000" stroke-width="1.2" />
<line x1="134.9" y1="343.8" x2="140.9" y2="343.8" stroke="#000" stroke-width="1.2" />
<line x1="134.9" y1="362.2" x2="140.9" y2="362.2" stroke="#000" stroke-width="1.2" />
<line x1="131.1" y1="353.0" x2="144.70000000000002" y2="353.0" stroke="#000" stroke-width="1.2" />
<rect x="196.50" y="328.70" width="3.6" height="3.6" fill="#33508c"/>
<rect x="192.80" y="332.20" width="3.6" height="3.6" fill="#33508c"/>
<rect x="196.50" y="332.20" width="3.6" height="3.6" fill="#33508c"/>
<rect x="200.20" y="332.20" width="3.6" height="3.6" fill="#33508c"/>
<rect x="192.80" y="335.50" width="3.6" height="3.6" fill="#33508c"/>
<rect x="196.50" y="335.50" width="3.6" height="3.6" fill="#33508c"/>
<rect x="200.20" y="335.50" width="3.6" height="3.6" fill="#33508c"/>
<rect x="194.60" y="338.80" width="3.6" height="3.6" fill="#33508c"/>
<rect x="198.40" y="338.80" width="3.6" height="3.6" fill="#33508c"/>
<rect x="192.80" y="342.10" width="3.6" height="3.6" fill="#33508c"/>
<rect x="196.50" y="342.10" width="3.6" height="3.6" fill="#33508c"/>
<rect x="200.20" y="342.10" width="3.6" height="3.6" fill="#33508c"/>
<rect x="192.80" y="345.40" width="3.6" height="3.6" fill="#33508c"/>
<rect x="196.50" y="345.40" width="3.6" height="3.6" fill="#33508c"/>
<rect x="200.20" y="345.40" width="3.6" height="3.6" fill="#33508c"/>
<rect x="194.60" y="348.70" width="3.6" height="3.6" fill="#33508c"/>
<rect x="198.40" y="348.70" width="3.6" height="3.6" fill="#33508c"/>
<rect x="192.80" y="352.00" width="3.6" height="3.6" fill="#33508c"/>
<rect x="196.50" y="352.00" width="3.6" height="3.6" fill="#33508c"/>
<rect x="200.20" y="352.00" width="3.6" height="3.6" fill="#33508c"/>
<rect x="192.80" y="355.30" width="3.6" height="3.6" fill="#33508c"/>
<rect x="196.50" y="355.30" width="3.6" height="3.6" fill="#33508c"/>
<rect x="200.20" y="355.30" width="3.6" height="3.6" fill="#33508c"/>
<rect x="192.80" y="358.60" width="3.6" height="3.6" fill="#33508c"/>
<rect x="196.50" y="358.60" width="3.6" height="3.6" fill="#33508c"/>
<rect x="200.20" y="358.60" width="3.6" height="3.6" fill="#33508c"/>
<rect x="192.80" y="361.90" width="3.6" height="3.6" fill="#33508c"/>
<rect x="196.50" y="361.90" width="3.6" height="3.6" fill="#33508c"/>
<rect x="200.20" y="361.90" width="3.6" height="3.6" fill="#33508c"/>
<rect x="194.60" y="365.20" width="3.6" height="3.6" fill="#33508c"/>
<rect x="198.40" y="365.20" width="3.6" height="3.6" fill="#33508c"/>
<rect x="192.80" y="368.50" width="3.6" height="3.6" fill="#33508c"/>
<rect x="196.50" y="368.50" width="3.6" height="3.6" fill="#33508c"/>
<rect x="200.20" y="368.50" width="3.6" height="3.6" fill="#33508c"/>
<rect x="192.80" y="371.80" width="3.6" height="3.6" fill="#33508c"/>
<rect x="196.50" y="371.80" width="3.6" height="3.6" fill="#33508c"/>
<rect x="200.20" y="371.80" width="3.6" height="3.6" fill="#33508c"/>
<rect x="192.80" y="375.10" width="3.6" height="3.6" fill="#33508c"/>
<rect x="196.50" y="375.10" width="3.6" height="3.6" fill="#33508c"/>
<rect x="200.20" y="375.10" width="3.6" height="3.6" fill="#33508c"/>
<rect x="194.60" y="378.40" width="3.6" height="3.6" fill="#33508c"/>
<rect x="198.40" y="378.40" width="3.6" height="3.6" fill="#33508c"/>
<rect x="196.50" y="380.80" width="3.6" height="3.6" fill="#33508c"/>
<rect x="196.50" y="387.90" width="3.6" height="3.6" fill="#33508c"/>
<line x1="198.3" y1="350.4" x2="198.3" y2="370.8" stroke="#000" stroke-width="1.1" />
<line x1="195.70000000000002" y1="350.4" x2="200.9" y2="350.4" stroke="#000" stroke-width="1.1" />
<line x1="195.70000000000002" y1="370.8" x2="200.9" y2="370.8" stroke="#000" stroke-width="1.1" />
<line x1="191.8" y1="361.2" x2="204.8" y2="361.2" stroke="#000" stroke-width="1.1" />
<path d="M100.00 318.82L102.05 322.42L97.95 322.42Z" fill="#951a40" stroke="#5c0c26" stroke-width="0.5" stroke-linejoin="round"/>
<path d="M100.00 327.62L102.05 331.22L97.95 331.22Z" fill="#951a40" stroke="#5c0c26" stroke-width="0.5" stroke-linejoin="round"/>
<path d="M94.00 334.92L96.05 338.52L91.95 338.52Z" fill="#951a40" stroke="#5c0c26" stroke-width="0.5" stroke-linejoin="round"/>
<path d="M101.80 335.32L103.85 338.92L99.75 338.92Z" fill="#951a40" stroke="#5c0c26" stroke-width="0.5" stroke-linejoin="round"/>
<path d="M96.60 338.32L98.65 341.92L94.55 341.92Z" fill="#951a40" stroke="#5c0c26" stroke-width="0.5" stroke-linejoin="round"/>
<path d="M103.50 341.32L105.55 344.92L101.45 344.92Z" fill="#951a40" stroke="#5c0c26" stroke-width="0.5" stroke-linejoin="round"/>
<path d="M96.60 350.32L98.65 353.92L94.55 353.92Z" fill="#951a40" stroke="#5c0c26" stroke-width="0.5" stroke-linejoin="round"/>
<path d="M103.00 350.32L105.05 353.92L100.95 353.92Z" fill="#951a40" stroke="#5c0c26" stroke-width="0.5" stroke-linejoin="round"/>
<path d="M96.60 358.52L98.65 362.12L94.55 362.12Z" fill="#951a40" stroke="#5c0c26" stroke-width="0.5" stroke-linejoin="round"/>
<path d="M102.60 362.82L104.65 366.42L100.55 366.42Z" fill="#951a40" stroke="#5c0c26" stroke-width="0.5" stroke-linejoin="round"/>
<path d="M100.00 379.52L102.05 383.12L97.95 383.12Z" fill="#951a40" stroke="#5c0c26" stroke-width="0.5" stroke-linejoin="round"/>
<line x1="99.6" y1="336.2" x2="99.6" y2="360.0" stroke="#000" stroke-width="1.3" />
<line x1="96.6" y1="336.2" x2="102.6" y2="336.2" stroke="#000" stroke-width="1.3" />
<line x1="96.6" y1="360.0" x2="102.6" y2="360.0" stroke="#000" stroke-width="1.3" />
<line x1="93.8" y1="343.7" x2="105.39999999999999" y2="343.7" stroke="#000" stroke-width="1.3" />
<path d="M158.30 304.42L160.35 308.02L156.25 308.02Z" fill="#951a40" stroke="#5c0c26" stroke-width="0.5" stroke-linejoin="round"/>
<path d="M156.10 319.52L158.15 323.12L154.05 323.12Z" fill="#951a40" stroke="#5c0c26" stroke-width="0.5" stroke-linejoin="round"/>
<path d="M162.60 318.42L164.65 322.02L160.55 322.02Z" fill="#951a40" stroke="#5c0c26" stroke-width="0.5" stroke-linejoin="round"/>
<path d="M158.30 326.62L160.35 330.22L156.25 330.22Z" fill="#951a40" stroke="#5c0c26" stroke-width="0.5" stroke-linejoin="round"/>
<path d="M155.50 337.02L157.55 340.62L153.45 340.62Z" fill="#951a40" stroke="#5c0c26" stroke-width="0.5" stroke-linejoin="round"/>
<path d="M163.00 336.42L165.05 340.02L160.95 340.02Z" fill="#951a40" stroke="#5c0c26" stroke-width="0.5" stroke-linejoin="round"/>
<path d="M155.50 340.72L157.55 344.32L153.45 344.32Z" fill="#951a40" stroke="#5c0c26" stroke-width="0.5" stroke-linejoin="round"/>
<path d="M163.00 339.52L165.05 343.12L160.95 343.12Z" fill="#951a40" stroke="#5c0c26" stroke-width="0.5" stroke-linejoin="round"/>
<path d="M154.50 347.62L156.55 351.22L152.45 351.22Z" fill="#951a40" stroke="#5c0c26" stroke-width="0.5" stroke-linejoin="round"/>
<path d="M163.00 348.02L165.05 351.62L160.95 351.62Z" fill="#951a40" stroke="#5c0c26" stroke-width="0.5" stroke-linejoin="round"/>
<path d="M156.60 354.02L158.65 357.62L154.55 357.62Z" fill="#951a40" stroke="#5c0c26" stroke-width="0.5" stroke-linejoin="round"/>
<path d="M161.40 353.02L163.45 356.62L159.35 356.62Z" fill="#951a40" stroke="#5c0c26" stroke-width="0.5" stroke-linejoin="round"/>
<path d="M155.50 357.32L157.55 360.92L153.45 360.92Z" fill="#951a40" stroke="#5c0c26" stroke-width="0.5" stroke-linejoin="round"/>
<path d="M160.90 357.32L162.95 360.92L158.85 360.92Z" fill="#951a40" stroke="#5c0c26" stroke-width="0.5" stroke-linejoin="round"/>
<path d="M159.80 363.22L161.85 366.82L157.75 366.82Z" fill="#951a40" stroke="#5c0c26" stroke-width="0.5" stroke-linejoin="round"/>
<path d="M163.50 363.22L165.55 366.82L161.45 366.82Z" fill="#951a40" stroke="#5c0c26" stroke-width="0.5" stroke-linejoin="round"/>
<path d="M158.50 370.22L160.55 373.82L156.45 373.82Z" fill="#951a40" stroke="#5c0c26" stroke-width="0.5" stroke-linejoin="round"/>
<path d="M158.30 379.52L160.35 383.12L156.25 383.12Z" fill="#951a40" stroke="#5c0c26" stroke-width="0.5" stroke-linejoin="round"/>
<line x1="159.1" y1="335.7" x2="159.1" y2="361.0" stroke="#000" stroke-width="1.3" />
<line x1="156.4" y1="335.7" x2="161.79999999999998" y2="335.7" stroke="#000" stroke-width="1.3" />
<line x1="156.4" y1="361.0" x2="161.79999999999998" y2="361.0" stroke="#000" stroke-width="1.3" />
<line x1="152.9" y1="350.2" x2="165.29999999999998" y2="350.2" stroke="#000" stroke-width="1.3" />
<path d="M218.30 313.52L220.35 317.12L216.25 317.12Z" fill="#951a40" stroke="#5c0c26" stroke-width="0.5" stroke-linejoin="round"/>
<path d="M215.00 319.52L217.05 323.12L212.95 323.12Z" fill="#951a40" stroke="#5c0c26" stroke-width="0.5" stroke-linejoin="round"/>
<path d="M221.90 320.52L223.95 324.12L219.85 324.12Z" fill="#951a40" stroke="#5c0c26" stroke-width="0.5" stroke-linejoin="round"/>
<path d="M218.30 334.92L220.35 338.52L216.25 338.52Z" fill="#951a40" stroke="#5c0c26" stroke-width="0.5" stroke-linejoin="round"/>
<path d="M221.50 340.92L223.55 344.52L219.45 344.52Z" fill="#951a40" stroke="#5c0c26" stroke-width="0.5" stroke-linejoin="round"/>
<path d="M215.00 345.52L217.05 349.12L212.95 349.12Z" fill="#951a40" stroke="#5c0c26" stroke-width="0.5" stroke-linejoin="round"/>
<path d="M215.00 358.02L217.05 361.62L212.95 361.62Z" fill="#951a40" stroke="#5c0c26" stroke-width="0.5" stroke-linejoin="round"/>
<path d="M221.50 356.42L223.55 360.02L219.45 360.02Z" fill="#951a40" stroke="#5c0c26" stroke-width="0.5" stroke-linejoin="round"/>
<path d="M218.30 367.72L220.35 371.32L216.25 371.32Z" fill="#951a40" stroke="#5c0c26" stroke-width="0.5" stroke-linejoin="round"/>
<path d="M218.30 377.42L220.35 381.02L216.25 381.02Z" fill="#951a40" stroke="#5c0c26" stroke-width="0.5" stroke-linejoin="round"/>
<path d="M218.30 384.92L220.35 388.52L216.25 388.52Z" fill="#951a40" stroke="#5c0c26" stroke-width="0.5" stroke-linejoin="round"/>
<path d="M218.30 392.42L220.35 396.02L216.25 396.02Z" fill="#951a40" stroke="#5c0c26" stroke-width="0.5" stroke-linejoin="round"/>
<line x1="218.3" y1="328.3" x2="218.3" y2="373.0" stroke="#000" stroke-width="1.3" />
<line x1="215.0" y1="328.3" x2="221.60000000000002" y2="328.3" stroke="#000" stroke-width="1.3" />
<line x1="215.0" y1="373.0" x2="221.60000000000002" y2="373.0" stroke="#000" stroke-width="1.3" />
<line x1="211.8" y1="347.2" x2="224.8" y2="347.2" stroke="#000" stroke-width="1.3" />
<text x="415.5" y="264.6" font-size="9.81" text-anchor="middle" font-weight="bold" >Time to 2-HG Suppression and Response</text>
<line x1="320.0" y1="274.0" x2="320.0" y2="425.3" stroke="#000" stroke-width="1.5" />
<line x1="319.25" y1="424.5" x2="510.5" y2="424.5" stroke="#000" stroke-width="1.5" />
<line x1="316.6" y1="284.7" x2="320.0" y2="284.7" stroke="#000" stroke-width="1.3" />
<line x1="316.6" y1="303.1" x2="320.0" y2="303.1" stroke="#000" stroke-width="1.3" />
<line x1="316.6" y1="321.8" x2="320.0" y2="321.8" stroke="#000" stroke-width="1.3" />
<line x1="316.6" y1="340.8" x2="320.0" y2="340.8" stroke="#000" stroke-width="1.3" />
<line x1="316.6" y1="359.2" x2="320.0" y2="359.2" stroke="#000" stroke-width="1.3" />
<line x1="316.6" y1="378.0" x2="320.0" y2="378.0" stroke="#000" stroke-width="1.3" />
<line x1="316.6" y1="396.8" x2="320.0" y2="396.8" stroke="#000" stroke-width="1.3" />
<line x1="316.6" y1="415.4" x2="320.0" y2="415.4" stroke="#000" stroke-width="1.3" />
<text x="312.6" y="287.85" font-size="8.8" text-anchor="end" >R172</text>
<text x="312.6" y="306.25" font-size="8.8" text-anchor="end" >R140</text>
<text x="312.6" y="343.95" font-size="8.8" text-anchor="end" >R172</text>
<text x="312.6" y="362.35" font-size="8.8" text-anchor="end" >R140</text>
<text x="312.6" y="399.95" font-size="8.8" text-anchor="end" >R172</text>
<text x="312.6" y="418.55" font-size="8.8" text-anchor="end" >R140</text>
<line x1="323.1" y1="424.5" x2="323.1" y2="427.8" stroke="#000" stroke-width="1.3" />
<text x="323.1" y="440.15" font-size="8.8" text-anchor="middle" >0</text>
<line x1="359.82000000000005" y1="424.5" x2="359.82000000000005" y2="427.8" stroke="#000" stroke-width="1.3" />
<text x="359.82000000000005" y="440.15" font-size="8.8" text-anchor="middle" >2</text>
<line x1="396.54" y1="424.5" x2="396.54" y2="427.8" stroke="#000" stroke-width="1.3" />
<text x="396.54" y="440.15" font-size="8.8" text-anchor="middle" >4</text>
<line x1="433.26" y1="424.5" x2="433.26" y2="427.8" stroke="#000" stroke-width="1.3" />
<text x="433.26" y="440.15" font-size="8.8" text-anchor="middle" >6</text>
<line x1="469.98" y1="424.5" x2="469.98" y2="427.8" stroke="#000" stroke-width="1.3" />
<text x="469.98" y="440.15" font-size="8.8" text-anchor="middle" >8</text>
<line x1="506.70000000000005" y1="424.5" x2="506.70000000000005" y2="427.8" stroke="#000" stroke-width="1.3" />
<text x="506.70000000000005" y="440.15" font-size="8.8" text-anchor="middle" >10</text>
<text x="414.9" y="455.0" font-size="11.6" text-anchor="middle" textLength="59.5" lengthAdjust="spacingAndGlyphs">Cycle number</text>
<line x1="287.1" y1="275.3" x2="287.1" y2="310.3" stroke="#000" stroke-width="1.3" />
<line x1="287.1" y1="332.3" x2="287.1" y2="367.2" stroke="#000" stroke-width="1.3" />
<line x1="287.1" y1="387.5" x2="287.1" y2="422.3" stroke="#000" stroke-width="1.3" />
<text transform="translate(280.9,292.6) rotate(-90)" font-size="12.0" text-anchor="middle" textLength="13.2" lengthAdjust="spacingAndGlyphs">CR</text>
<text transform="translate(280.9,349.8) rotate(-90)" font-size="12.0" text-anchor="middle" textLength="12.8" lengthAdjust="spacingAndGlyphs">BR</text>
<text transform="translate(267.9,404.8) rotate(-90)" font-size="12.0" text-anchor="middle" textLength="19.2" lengthAdjust="spacingAndGlyphs">Max</text>
<text transform="translate(280.9,405.0) rotate(-90)" font-size="12.0" text-anchor="middle" textLength="22.2" lengthAdjust="spacingAndGlyphs">2-HG</text>
<line x1="374.3" y1="284.8" x2="504.4" y2="284.8" stroke="#b0234f" stroke-width="1.2" />
<line x1="374.3" y1="282.5" x2="374.3" y2="287.1" stroke="#b0234f" stroke-width="1.4" />
<line x1="504.4" y1="282.5" x2="504.4" y2="287.1" stroke="#b0234f" stroke-width="1.4" />
<path d="M439.00 282.49L441.50 286.69L436.50 286.69Z" fill="#951a40" stroke="#5c0c26" stroke-width="0.5" stroke-linejoin="round"/>
<text x="442" y="279.74" font-size="8.5" text-anchor="middle" >n = 16</text>
<line x1="368.8" y1="302.9" x2="451.1" y2="302.9" stroke="#44567f" stroke-width="1.2" />
<line x1="368.8" y1="300.59999999999997" x2="368.8" y2="305.2" stroke="#44567f" stroke-width="1.4" />
<line x1="451.1" y1="300.59999999999997" x2="451.1" y2="305.2" stroke="#44567f" stroke-width="1.4" />
<rect x="407.40" y="300.60" width="4.6" height="4.6" fill="#2d4a80"/>
<text x="412.3" y="298.24" font-size="8.5" text-anchor="middle" >n = 29</text>
<line x1="323.7" y1="340.8" x2="446.7" y2="340.8" stroke="#b0234f" stroke-width="1.2" />
<line x1="323.7" y1="338.5" x2="323.7" y2="343.1" stroke="#b0234f" stroke-width="1.4" />
<line x1="446.7" y1="338.5" x2="446.7" y2="343.1" stroke="#b0234f" stroke-width="1.4" />
<path d="M384.80 338.49L387.30 342.69L382.30 342.69Z" fill="#951a40" stroke="#5c0c26" stroke-width="0.5" stroke-linejoin="round"/>
<text x="389" y="335.44" font-size="8.5" text-anchor="middle" >n = 45</text>
<line x1="322.7" y1="359.4" x2="406.9" y2="359.4" stroke="#44567f" stroke-width="1.2" />
<line x1="322.7" y1="357.09999999999997" x2="322.7" y2="361.7" stroke="#44567f" stroke-width="1.4" />
<line x1="406.9" y1="357.09999999999997" x2="406.9" y2="361.7" stroke="#44567f" stroke-width="1.4" />
<rect x="362.70" y="357.10" width="4.6" height="4.6" fill="#2d4a80"/>
<text x="368.4" y="354.24" font-size="8.5" text-anchor="middle" >n = 130</text>
<line x1="326.9" y1="396.9" x2="415.7" y2="396.9" stroke="#b0234f" stroke-width="1.2" />
<line x1="326.9" y1="394.59999999999997" x2="326.9" y2="399.2" stroke="#b0234f" stroke-width="1.4" />
<line x1="415.7" y1="394.59999999999997" x2="415.7" y2="399.2" stroke="#b0234f" stroke-width="1.4" />
<path d="M371.20 394.59L373.70 398.79L368.70 398.79Z" fill="#951a40" stroke="#5c0c26" stroke-width="0.5" stroke-linejoin="round"/>
<text x="373.2" y="391.24" font-size="8.5" text-anchor="middle" >n = 32</text>
<line x1="328.1" y1="415.2" x2="378.5" y2="415.2" stroke="#44567f" stroke-width="1.2" />
<line x1="328.1" y1="412.9" x2="328.1" y2="417.5" stroke="#44567f" stroke-width="1.4" />
<line x1="378.5" y1="412.9" x2="378.5" y2="417.5" stroke="#44567f" stroke-width="1.4" />
<rect x="351.20" y="412.90" width="4.6" height="4.6" fill="#2d4a80"/>
<text x="355.4" y="409.64" font-size="8.5" text-anchor="middle" >n = 93</text>
<rect x="0.7" y="0.8" width="518.3" height="464.5" fill="none" stroke="#000" stroke-width="1.8"/>
</svg></div></body></html>
